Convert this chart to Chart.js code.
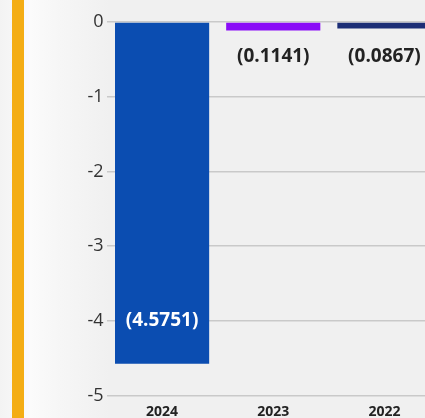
<!DOCTYPE html>
<html>
<head>
<meta charset="utf-8">
<script src="https://cdn.jsdelivr.net/npm/chart.js@4.4.0/dist/chart.umd.min.js"></script>
<style>
  html, body { margin: 0; padding: 0; }
  body {
    width: 425px; height: 418px; overflow: hidden; position: relative;
    background: linear-gradient(to right, #f3f3f3 0px, #fbfbfb 30px, #f6f6f6 60px, #f0f0f0 110px, #f0f0f0 100%);
  }
  #stripe { position: absolute; left: 12px; top: 0; width: 12px; height: 418px; background: #f4ad14; }
  #wrap { position: absolute; left: 0; top: 0; width: 440px; height: 418px; }
</style>
</head>
<body>
<div id="stripe"></div>
<div id="wrap"><canvas id="lossChart"></canvas></div>
<script>
// years shown and their (negative) values
const years = ['2024', '2023', '2022'];
const values = [-4.5751, -0.1141, -0.0867];
const barColors = ['#0b4db1', '#8a0cf7', '#1c2e76'];
const yTicks = [0, -1, -2, -3, -4, -5];

// writes the value in accounting style, e.g. (4.5751)
// big bars get it inside near the end, small ones on a common row under the zero line
const valueLabels = {
  id: 'valueLabels',
  afterDatasetsDraw(chart) {
    const ctx = chart.ctx;
    const meta = chart.getDatasetMeta(0);
    ctx.save();
    ctx.font = 'bold 19px "Open Sans"';
    ctx.textAlign = 'center';
    ctx.textBaseline = 'middle';
    meta.data.forEach((bar, i) => {
      const text = '(' + Math.abs(values[i]).toFixed(4) + ')';
      const inside = (bar.y - bar.base) > 80;
      ctx.fillStyle = inside ? '#ffffff' : '#222222';
      const y = inside ? bar.y - 43 : bar.base + 34;
      ctx.fillText(text, bar.x, y);
    });
    ctx.restore();
  }
};

new Chart(document.getElementById('lossChart'), {
  type: 'bar',
  data: {
    labels: years,
    datasets: [{
      data: values,
      backgroundColor: barColors,
      borderWidth: 0,
      categoryPercentage: 1,
      barPercentage: 0.847
    }]
  },
  options: {
    responsive: true,
    maintainAspectRatio: false,
    animation: false,
    layout: { padding: { top: 22, left: 0, right: 0, bottom: 0 } },
    plugins: { legend: { display: false }, tooltip: { enabled: false } },
    scales: {
      x: {
        border: { display: false },
        grid: { display: false },
        ticks: { color: '#222', font: { family: 'Open Sans', size: 14, weight: 'bold' }, padding: 0 },
        afterFit(scale) { scale.height = 22.5; }
      },
      y: {
        min: -5,
        max: 0,
        border: { display: false },
        grid: { color: '#c9c9c9', lineWidth: 1.5, drawTicks: false },
        ticks: {
          stepSize: 1,
          padding: 3,
          color: '#333',
          font: { family: 'Open Sans', size: 18 },
          callback: v => yTicks.includes(v) ? String(v) : ''
        },
        afterFit(scale) { scale.width = 106.5; }
      }
    }
  },
  plugins: [valueLabels]
});
</script>
</body>
</html>
